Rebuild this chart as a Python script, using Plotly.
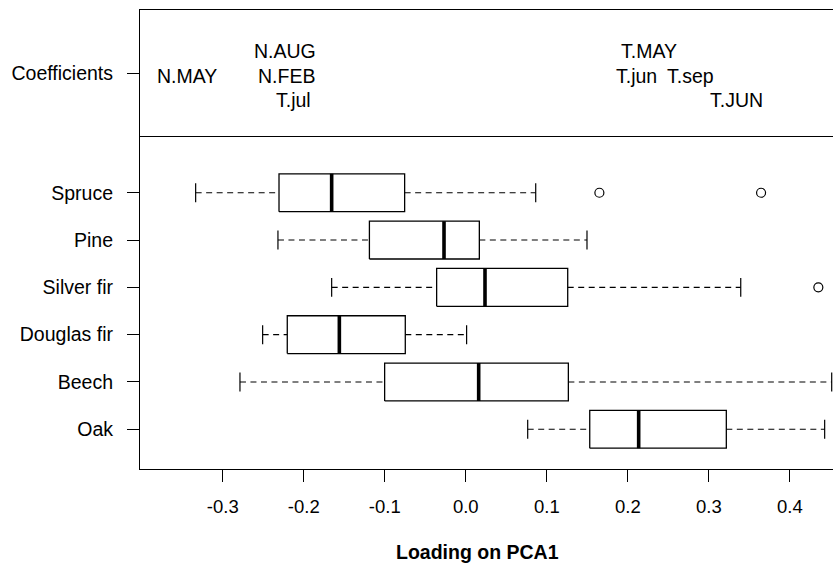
import plotly.graph_objects as go

# ---- data ----
species = ["Oak", "Beech", "Douglas fir", "Silver fir", "Pine", "Spruce"]
whisker_low = [0.0764, -0.2788, -0.2508, -0.1656, -0.2319, -0.3335]
q1 = [0.1530, -0.1002, -0.2204, -0.0360, -0.1190, -0.2306]
median = [0.2134, 0.0159, -0.1561, 0.0237, -0.0269, -0.1656]
q3 = [0.3216, 0.1266, -0.0747, 0.1258, 0.0167, -0.0755]
whisker_high = [0.4430, 0.4517, 0.0010, 0.3394, 0.1496, 0.0863]
outlier_species = ["Silver fir", "Spruce", "Spruce"]
outlier_values = [0.4352, 0.1649, 0.3645]

coef_names = ["N.MAY", "N.AUG", "N.FEB", "T.jul", "T.MAY", "T.jun", "T.sep", "T.JUN"]
coef_values = [-0.344, -0.2232, -0.221, -0.213, 0.2259, 0.211, 0.277, 0.3344]
coef_level = [0, 1, 0, -1, 1, 0, 0, -1]

x_tick_values = [-0.3, -0.2, -0.1, 0.0, 0.1, 0.2, 0.3, 0.4]
x_tick_labels = ["-0.3", "-0.2", "-0.1", "0.0", "0.1", "0.2", "0.3", "0.4"]

# ---- style ----
FONT = "Liberation Sans, Arial, sans-serif"
FSX = 18.5
FS = 19.5
BOXW = 0.4
STAPLE = 0.2
pos = {s: i + 1 for i, s in enumerate(species)}

box_x, box_y = [], []
med_x, med_y = [], []
wh_x, wh_y = [], []
st_x, st_y = [], []
for s, lo, a, m, b, hi in zip(species, whisker_low, q1, median, q3, whisker_high):
    p = pos[s]
    box_x += [a, b, b, a, a, None]
    box_y += [p - BOXW, p - BOXW, p + BOXW, p + BOXW, p - BOXW, None]
    med_x += [m, m, None]
    med_y += [p - BOXW, p + BOXW, None]
    wh_x += [lo, a, None, b, hi, None]
    wh_y += [p, p, None, p, p, None]
    st_x += [lo, lo, None, hi, hi, None]
    st_y += [p - STAPLE, p + STAPLE, None, p - STAPLE, p + STAPLE, None]

fig = go.Figure()
fig.add_trace(go.Scatter(x=wh_x, y=wh_y, mode="lines",
                         line=dict(color="black", width=1.1, dash="6px,4.5px"),
                         xaxis="x", yaxis="y", hoverinfo="skip"))
fig.add_trace(go.Scatter(x=st_x, y=st_y, mode="lines",
                         line=dict(color="black", width=1.2),
                         xaxis="x", yaxis="y", hoverinfo="skip"))
fig.add_trace(go.Scatter(x=box_x, y=box_y, mode="lines",
                         line=dict(color="black", width=1.3),
                         xaxis="x", yaxis="y", hoverinfo="skip"))
fig.add_trace(go.Scatter(x=med_x, y=med_y, mode="lines",
                         line=dict(color="black", width=3.6),
                         xaxis="x", yaxis="y", hoverinfo="skip"))
fig.add_trace(go.Scatter(x=outlier_values, y=[pos[s] for s in outlier_species],
                         mode="markers",
                         marker=dict(symbol="circle-open", size=9, color="black",
                                     line=dict(width=1.2, color="black")),
                         xaxis="x", yaxis="y", hoverinfo="skip"))

annotations = []
for name, v, lev in zip(coef_names, coef_values, coef_level):
    annotations.append(dict(x=v, y=0.48 + 0.193 * lev, xref="x2", yref="y2",
                            text=name, showarrow=False, xanchor="center",
                            yanchor="middle",
                            font=dict(family=FONT, size=FS, color="black")))
annotations.append(dict(x=477 / 833, y=(564 - 551.5) / 564, xref="paper", yref="paper",
                        text="Loading on PCA1", showarrow=False,
                        xanchor="center", yanchor="middle",
                        font=dict(family=FONT, size=19.5, color="black", weight="bold")))

xr = [-0.4022, 0.4533]
fig.update_layout(
    width=833, height=564,
    margin=dict(l=0, r=0, t=0, b=0),
    paper_bgcolor="white", plot_bgcolor="white",
    showlegend=False,
    font=dict(family=FONT, size=FS, color="black"),
    xaxis=dict(domain=[140 / 833, 1], range=xr, anchor="y",
               tickvals=x_tick_values, ticktext=x_tick_labels,
               ticks="outside", ticklen=12, tickwidth=1, tickcolor="black",
               showline=True, linecolor="black", linewidth=1.2,
               showgrid=False, zeroline=False, ticklabelstandoff=8,
               tickfont=dict(family=FONT, size=FSX, color="black")),
    yaxis=dict(domain=[(564 - 469.3) / 564, (564 - 136) / 564], range=[0.154, 7.2],
               anchor="x", tickvals=[pos[s] for s in species], ticktext=species,
               ticks="outside", ticklen=12, tickwidth=1, tickcolor="black",
               showline=True, linecolor="black", linewidth=1.2,
               showgrid=False, zeroline=False, ticklabelstandoff=10,
               tickfont=dict(family=FONT, size=FS, color="black")),
    xaxis2=dict(domain=[140 / 833, 1], range=xr, anchor="y2", matches="x",
                showticklabels=False, ticks="", showline=True, mirror=True,
                linecolor="black", linewidth=1.2, showgrid=False, zeroline=False),
    yaxis2=dict(domain=[(564 - 136) / 564, (564 - 10) / 564], range=[0, 1],
                anchor="x2", tickvals=[0.5], ticktext=["Coefficients"],
                ticks="outside", ticklen=12, tickwidth=1, tickcolor="black",
                showline=True, linecolor="black", linewidth=1.2,
                showgrid=False, zeroline=False, ticklabelstandoff=10,
                tickfont=dict(family=FONT, size=FS, color="black")),
    annotations=annotations,
)

fig.write_html("out.html")
